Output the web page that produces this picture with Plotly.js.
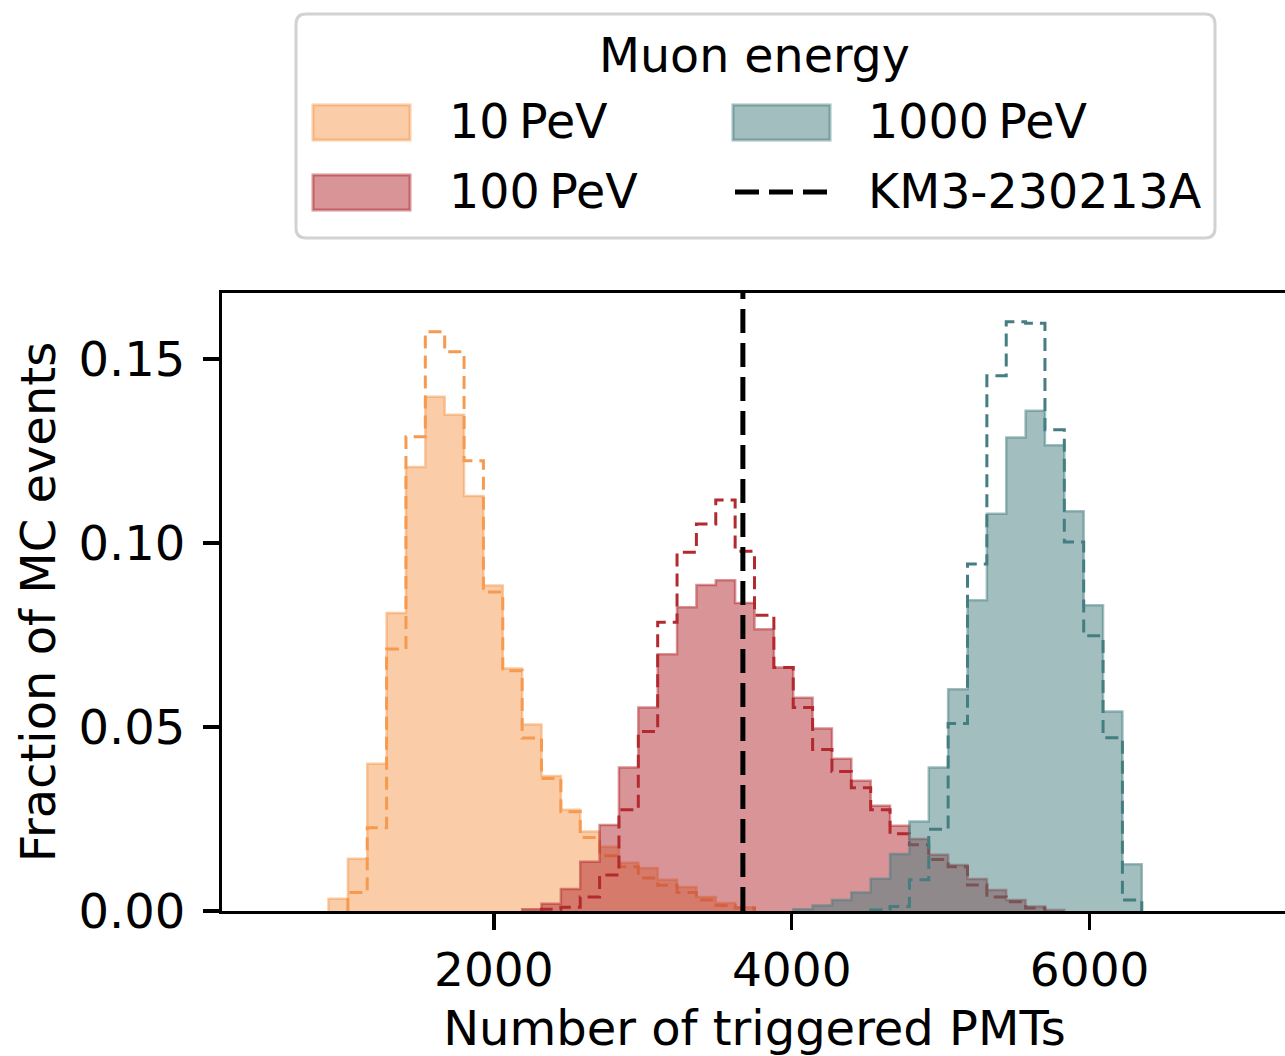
<!DOCTYPE html>
<html>
<head>
<meta charset="utf-8">
<script src="https://cdn.plot.ly/plotly-3.0.1.min.js"></script>
<style>
html,body{margin:0;padding:0;background:#fff;overflow:hidden;}
#chart{width:1290px;height:1056px;}
</style>
</head>
<body>
<div id="chart"></div>
<script>
// ---- data ----
const binEdges = [890, 1020, 1150, 1280, 1410, 1540, 1670, 1800, 1930, 2060, 2190, 2320, 2450, 2580, 2710, 2840, 2970, 3100, 3230, 3360, 3490, 3620, 3750, 3880, 4010, 4140, 4270, 4400, 4530, 4660, 4790, 4920, 5050, 5180, 5310, 5440, 5570, 5700, 5830, 5960, 6090, 6220, 6350];

const seriesNames = ["10\u2009PeV", "100\u2009PeV", "1000\u2009PeV"];
const eventName = "KM3-230213A";
const eventPMTs = 3672;

// filled histograms (fraction of MC events per bin)
const pev10Filled = [0.0033, 0.0142, 0.040, 0.081, 0.1207, 0.1398, 0.1349, 0.1128, 0.0885, 0.0659, 0.0507, 0.0367, 0.0275, 0.0216, 0.0175, 0.0131, 0.0117, 0.0085, 0.0065, 0.0038, 0.0022, 0.001, 0, 0, 0, 0, 0, 0, 0, 0, 0, 0, 0, 0, 0, 0, 0, 0, 0, 0, 0, 0];
const pev100Filled = [0, 0, 0, 0, 0, 0, 0, 0, 0, 0, 0.0005, 0.002, 0.006, 0.0134, 0.0234, 0.039, 0.0553, 0.0698, 0.0826, 0.0886, 0.0899, 0.0837, 0.0766, 0.0662, 0.058, 0.0496, 0.0414, 0.0354, 0.0286, 0.0232, 0.0196, 0.0153, 0.0125, 0.0087, 0.0057, 0.003, 0.0012, 0.0003, 0, 0, 0, 0];
const pev1000Filled = [0, 0, 0, 0, 0, 0, 0, 0, 0, 0, 0, 0, 0, 0, 0, 0, 0, 0, 0, 0, 0, 0, 0, 0, 0.0005, 0.0015, 0.003, 0.005, 0.0088, 0.0155, 0.0243, 0.039, 0.0603, 0.0845, 0.108, 0.1287, 0.136, 0.1266, 0.1087, 0.0831, 0.0542, 0.0127];

// dashed (step) histograms
const pev10Dashed = [0, 0.005, 0.0226, 0.0712, 0.1289, 0.1575, 0.152, 0.1224, 0.0867, 0.0653, 0.047, 0.036, 0.027, 0.02, 0.015, 0.012, 0.009, 0.007, 0.005, 0.003, 0.0015, 0.0008, 0, 0, 0, 0, 0, 0, 0, 0, 0, 0, 0, 0, 0, 0, 0, 0, 0, 0, 0, 0];
const pev100Dashed = [0, 0, 0, 0, 0, 0, 0, 0, 0, 0, 0, 0.0005, 0.001, 0.0038, 0.0098, 0.0275, 0.0488, 0.0785, 0.0975, 0.1052, 0.1117, 0.0978, 0.0804, 0.0662, 0.0553, 0.0439, 0.0379, 0.0335, 0.0275, 0.021, 0.018, 0.014, 0.012, 0.0071, 0.0038, 0.0025, 0.0008, 0, 0, 0, 0, 0];
const pev1000Dashed = [0, 0, 0, 0, 0, 0, 0, 0, 0, 0, 0, 0, 0, 0, 0, 0, 0, 0, 0, 0, 0, 0, 0, 0, 0, 0, 0, 0, 0.0003, 0.0012, 0.0085, 0.0222, 0.051, 0.0943, 0.1455, 0.1602, 0.1598, 0.1308, 0.1003, 0.0748, 0.0471, 0.003];

const xTicks = [2000, 4000, 6000];
const yTicks = [0, 0.05, 0.10, 0.15];

// ---- styles ----
const baseColors = [[246,154,80],[178,42,48],[69,126,128]];
const FONT = "DejaVu Sans, Verdana, sans-serif";
function rgba(c,a){return `rgba(${c[0]},${c[1]},${c[2]},${a})`;}

function stepXY(vals){
  let i0 = vals.findIndex(v => v > 0);
  let i1 = vals.length - 1;
  while (i1 > 0 && !(vals[i1] > 0)) i1--;
  const xs = [binEdges[i0]], ys = [0];
  for (let i = i0; i <= i1; i++){ xs.push(binEdges[i]); ys.push(vals[i]); }
  xs.push(binEdges[i1+1]); ys.push(0);
  return {x: xs, y: ys};
}

const filled = [pev10Filled, pev100Filled, pev1000Filled];
const dashed = [pev10Dashed, pev100Dashed, pev1000Dashed];
const traces = [];
for (let k = 0; k < 3; k++){
  const f = stepXY(filled[k]);
  traces.push({type:'scatter', mode:'lines', x:f.x, y:f.y, name:seriesNames[k],
    line:{shape:'hv', color:rgba(baseColors[k],0.5), width:2.5},
    fill:'tozeroy', fillcolor:rgba(baseColors[k],0.5), showlegend:false, hoverinfo:'skip'});
  const d = stepXY(dashed[k]);
  traces.push({type:'scatter', mode:'lines', x:d.x, y:d.y, name:seriesNames[k]+' (dashed)',
    line:{shape:'hv', color:rgba(baseColors[k],1), width:3, dash:'13px,7px'},
    showlegend:false, hoverinfo:'skip'});
}
traces.push({type:'scatter', mode:'lines', x:[eventPMTs, eventPMTs], y:[0, 0.168], name:eventName,
  line:{color:'black', width:5, dash:'24px,10px'}, showlegend:false, hoverinfo:'skip'});

// ---- custom legend (pixel helpers) ----
const L = 222, R = 1287, T = 293, B = 911;
const px = p => (p - L) / (R - L);
const py = p => (B - p) / (B - T);
function roundRect(x0,y0,x1,y1,r){
  const P = (x,y) => `${px(x)},${py(y)}`;
  return `M${P(x0+r,y0)} L${P(x1-r,y0)} Q${P(x1,y0)} ${P(x1,y0+r)} L${P(x1,y1-r)} Q${P(x1,y1)} ${P(x1-r,y1)} L${P(x0+r,y1)} Q${P(x0,y1)} ${P(x0,y1-r)} L${P(x0,y0+r)} Q${P(x0,y0)} ${P(x0+r,y0)} Z`;
}
const shapes = [
  {type:'path', xref:'paper', yref:'paper', path:roundRect(296,14,1215,238,10),
   line:{color:'rgb(210,210,210)', width:3}, fillcolor:'rgba(255,255,255,0.8)', layer:'above'}
];
const patchPos = [[313,105],[313,175],[733,105]];
for (let k = 0; k < 3; k++){
  const [x0,y0] = patchPos[k];
  shapes.push({type:'rect', xref:'paper', yref:'paper', x0:px(x0), x1:px(x0+97), y0:py(y0), y1:py(y0+35),
    fillcolor:rgba(baseColors[k],0.5), line:{color:rgba(baseColors[k],0.5), width:3}, layer:'above'});
}
shapes.push({type:'line', xref:'paper', yref:'paper', x0:px(735), x1:px(830), y0:py(192), y1:py(192),
  line:{color:'black', width:5, dash:'24px,10px'}, layer:'above'});

const annFont = {family:FONT, size:47.5, color:'black'};
const annotations = [
  {xref:'paper', yref:'paper', x:px(754), y:py(56), text:'Muon energy', showarrow:false, xanchor:'center', yanchor:'middle', font:annFont},
  {xref:'paper', yref:'paper', x:px(447), y:py(122), text:seriesNames[0], showarrow:false, xanchor:'left', yanchor:'middle', font:annFont},
  {xref:'paper', yref:'paper', x:px(447), y:py(191), text:seriesNames[1], showarrow:false, xanchor:'left', yanchor:'middle', font:annFont},
  {xref:'paper', yref:'paper', x:px(866), y:py(122), text:seriesNames[2], showarrow:false, xanchor:'left', yanchor:'middle', font:annFont},
  {xref:'paper', yref:'paper', x:px(866), y:py(191), text:eventName, showarrow:false, xanchor:'left', yanchor:'middle', font:annFont}
];

const layout = {
  width:1290, height:1056,
  margin:{l:L, r:1290-R, t:T, b:1056-B, pad:0},
  paper_bgcolor:'white', plot_bgcolor:'white',
  font:{family:FONT, size:47, color:'black'},
  showlegend:false,
  xaxis:{range:[175,7325], tickvals:xTicks, ticktext:xTicks.map(String), ticks:'outside', ticklen:16, tickwidth:3.5, tickcolor:'black',
    showline:true, mirror:true, linewidth:3, linecolor:'black', showgrid:false, zeroline:false,
    tickfont:{family:FONT, size:47}, automargin:false,
    title:{text:'Number of triggered PMTs', font:{family:FONT, size:48}, standoff:18}},
  yaxis:{range:[0,0.168], tickvals:yTicks, tickformat:'.2f', ticks:'outside', ticklen:16, tickwidth:3.5, tickcolor:'black',
    showline:true, mirror:true, linewidth:3, linecolor:'black', showgrid:false, zeroline:false,
    tickfont:{family:FONT, size:48}, automargin:false, ticklabelstandoff:8,
    title:{text:'Fraction of MC events', font:{family:FONT, size:48}, standoff:8}},
  shapes:shapes, annotations:annotations
};
Plotly.newPlot('chart', traces, layout, {displayModeBar:false, staticPlot:true});
</script>
</body>
</html>
